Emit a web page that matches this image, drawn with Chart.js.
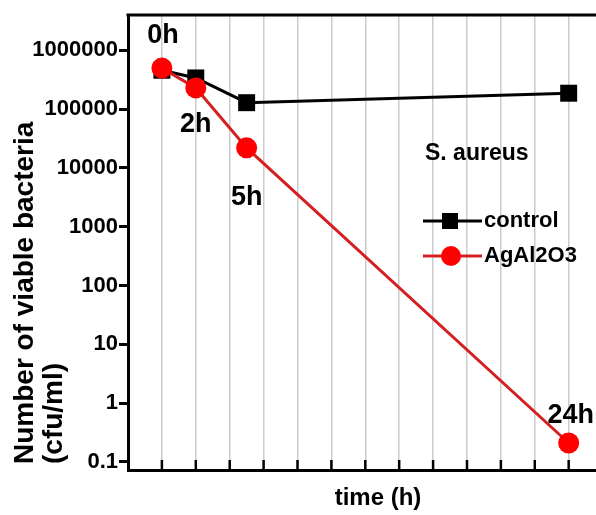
<!DOCTYPE html>
<html>
<head>
<meta charset="utf-8">
<script src="https://cdn.jsdelivr.net/npm/chart.js@4.4.1/dist/chart.umd.min.js"></script>
<style>
  html, body { margin: 0; padding: 0; background: #fff; overflow: hidden; }
  #wrap { width: 640px; height: 515px; }
</style>
</head>
<body>
<div id="wrap"><canvas id="chart"></canvas></div>
<script>
// data
var times = [0, 2, 5, 24];
var controlValues = [460000, 340000, 129000, 187000];
var agValues = [500000, 230000, 22000, 0.21];
var pointLabels = ['0h', '2h', '5h', '24h'];
var yTickValues = [0.1, 1, 10, 100, 1000, 10000, 100000, 1000000];
var seriesNames = ['control', 'AgAl2O3'];
var yTitle = ['Number of viable bacteria', '(cfu/ml)'];
var xTitle = 'time (h)';
var strainLabel = 'S. aureus';

var FONT = "'Liberation Sans', Arial, sans-serif";

function toPoints(xs, ys) {
    var pts = [];
    for (var i = 0; i < xs.length; i++) pts.push({x: xs[i], y: ys[i]});
    return pts;
}

// frame top line, inward ticks, titles, legend and point labels
var extras = {
    id: 'extras',
    afterDraw: function(chart) {
        var ctx = chart.ctx;
        var area = chart.chartArea;
        var xs = chart.scales.x;
        ctx.save();

        ctx.strokeStyle = '#000';
        ctx.lineWidth = 3;
        ctx.beginPath();
        ctx.moveTo(area.left - 1.5, area.top);
        ctx.lineTo(area.right, area.top);
        ctx.stroke();

        ctx.lineWidth = 2.5;
        xs.ticks.forEach(function(t) {
            if (t.value < 0) return;
            var px = xs.getPixelForValue(t.value);
            ctx.beginPath();
            ctx.moveTo(px, area.bottom);
            ctx.lineTo(px, area.bottom - 10);
            ctx.stroke();
        });

        ctx.fillStyle = '#000';
        ctx.font = 'bold 28px ' + FONT;
        ctx.textAlign = 'left';
        ctx.textBaseline = 'alphabetic';
        ctx.save();
        ctx.translate(33, 464);
        ctx.rotate(-Math.PI / 2);
        ctx.fillText(yTitle[0], 0, 0);
        ctx.fillText(yTitle[1], 0, 29);
        ctx.restore();

        ctx.font = 'bold 23px ' + FONT;
        ctx.textBaseline = 'middle';
        ctx.fillText(strainLabel, 425, 154);

        // legend
        var rows = [221, 256];
        chart.data.datasets.forEach(function(ds, i) {
            var y = rows[i];
            ctx.strokeStyle = ds.borderColor;
            ctx.lineWidth = 3;
            ctx.beginPath();
            ctx.moveTo(423, y);
            ctx.lineTo(482, y);
            ctx.stroke();
            ctx.fillStyle = ds.pointBackgroundColor;
            ctx.beginPath();
            if (ds.pointStyle === 'rect') {
                ctx.rect(442, y - 8, 16, 16);
            } else {
                ctx.arc(451, y, 10, 0, Math.PI * 2);
            }
            ctx.fill();
            ctx.fillStyle = '#000';
            ctx.font = 'bold 22px ' + FONT;
            ctx.textAlign = 'left';
            ctx.fillText(ds.label, 484, y);
        });

        // time labels beside the AgAl2O3 points
        var offsets = [[1, -33], [0, 37], [0, 50], [2, -27]];
        var meta = chart.getDatasetMeta(1);
        ctx.font = 'bold 27px ' + FONT;
        ctx.textAlign = 'center';
        ctx.fillStyle = '#000';
        meta.data.forEach(function(pt, i) {
            ctx.fillText(pointLabels[i], pt.x + offsets[i][0], pt.y + offsets[i][1]);
        });

        ctx.restore();
    }
};

var ctx = document.getElementById('chart').getContext('2d');
var chart = new Chart(ctx, {
    type: 'line',
    data: {
        datasets: [{
            label: seriesNames[0],
            data: toPoints(times, controlValues),
            borderColor: '#000',
            borderWidth: 3,
            pointStyle: 'rect',
            pointRadius: 12,
            pointBackgroundColor: '#000',
            pointBorderColor: '#000',
            pointBorderWidth: 0,
            order: 1
        }, {
            label: seriesNames[1],
            data: toPoints(times, agValues),
            borderColor: '#d42020',
            borderWidth: 3,
            pointStyle: 'circle',
            pointRadius: 10.5,
            pointBackgroundColor: '#ff0000',
            pointBorderColor: '#ff0000',
            pointBorderWidth: 0,
            order: 0
        }]
    },
    options: {
        responsive: true,
        maintainAspectRatio: false,
        animation: false,
        layout: { padding: { top: 15, right: 10, left: 0, bottom: 0 } },
        plugins: {
            legend: { display: false },
            tooltip: { enabled: false }
        },
        scales: {
            x: {
                type: 'linear',
                min: -2,
                max: 27.5,
                ticks: { stepSize: 2, display: false },
                grid: { color: '#cccccc', lineWidth: 1.5, drawTicks: false },
                border: { color: '#000', width: 3 },
                title: {
                    display: true,
                    text: xTitle,
                    color: '#000',
                    font: { family: FONT, size: 24, weight: 'bold' },
                    padding: { top: 14, bottom: 2 }
                },
                afterFit: function(scale) { scale.height = 45; }
            },
            y: {
                type: 'logarithmic',
                min: 0.073,
                max: 4000000,
                afterBuildTicks: function(scale) {
                    scale.ticks = yTickValues.map(function(v) { return {value: v}; });
                },
                ticks: {
                    color: '#000',
                    padding: 1,
                    font: { family: FONT, size: 22, weight: 'bold' },
                    callback: function(value) { return String(value); }
                },
                grid: {
                    drawOnChartArea: false,
                    tickLength: 9,
                    tickWidth: 3,
                    tickColor: '#000'
                },
                border: { color: '#000', width: 3 },
                afterFit: function(scale) { scale.width = 128; }
            }
        }
    },
    plugins: [extras]
});
</script>
</body>
</html>
